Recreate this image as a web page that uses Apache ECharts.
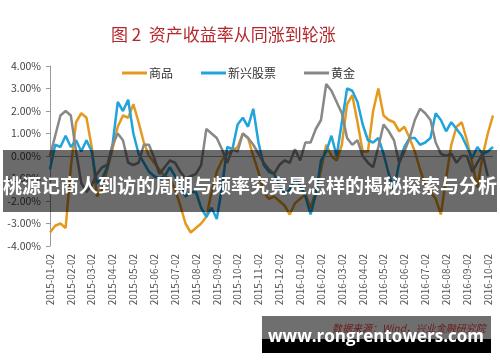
<!DOCTYPE html>
<html>
<head>
<meta charset="utf-8">
<script src="https://cdn.jsdelivr.net/npm/echarts@6/dist/echarts.min.js"></script>
<style>
html,body{margin:0;padding:0;background:#fff;}
#c{width:500px;height:362px;}
</style>
</head>
<body>
<div id="c"></div>
<script>
const monthLabels = ['2015-01-02','2015-02-02','2015-03-02','2015-04-02','2015-05-02','2015-06-02','2015-07-02','2015-08-02','2015-09-02','2015-10-02','2015-11-02','2015-12-02','2016-01-02','2016-02-02','2016-03-02','2016-04-02','2016-05-02','2016-06-02','2016-07-02','2016-08-02','2016-09-02','2016-10-02'];
const seriesNames = ['商品','新兴股票','黄金'];
const commodity = [-3.4,-3.1,-3.0,-3.2,-0.5,1.5,1.9,1.7,0.4,-1.8,-1.5,-0.6,0.3,1.3,1.8,1.7,2.3,1.5,0.6,0.0,-0.3,-0.6,-0.9,-1.0,-1.5,-2.2,-3.0,-3.4,-3.2,-3.0,-2.7,-1.6,-0.7,-0.2,0.1,0.25,0.4,1.0,0.8,0.0,-0.7,-1.6,-1.9,-1.8,-2.0,-2.2,-2.6,-2.1,-1.9,-1.7,-2.3,-1.6,-0.6,0.5,0.0,-0.2,0.5,2.3,2.7,1.5,0.2,0.2,2.0,3.0,1.8,1.6,1.5,1.1,1.3,0.8,0.2,-0.6,-1.3,-1.6,-1.9,-2.6,-1.0,0.5,1.3,1.5,0.7,-0.3,-1.4,0.0,1.0,1.8];
const emergingStocks = [-0.6,0.5,0.4,0.9,0.4,0.7,0.2,0.7,0.2,-1.2,-1.0,-0.5,0.5,2.4,2.0,2.5,1.0,0.1,-0.3,-0.7,-0.9,-1.0,-0.9,-0.5,-0.9,-1.2,-1.8,-1.6,-1.6,-2.3,-2.7,-2.3,-2.8,-1.4,0.4,0.3,1.4,1.7,1.3,2.1,0.6,-0.4,-0.7,-0.8,-1.3,-1.7,-1.5,-1.0,-1.3,-1.8,-2.6,-1.7,-0.2,0.2,0.9,0.0,1.5,3.0,2.9,2.4,1.4,0.7,0.6,0.8,0.1,-0.8,-1.5,-0.3,0.4,0.8,0.8,0.5,0.6,0.8,1.9,1.6,1.1,1.5,1.2,0.9,0.4,-0.1,0.4,0.1,0.2,0.4];
const gold = [0.0,0.9,1.8,2.0,1.8,0.2,-1.2,-1.6,-1.3,-0.8,-0.5,-0.4,0.5,1.0,0.7,-0.3,-0.4,-0.3,0.5,0.5,-0.1,-0.8,-0.5,-0.2,-0.3,-0.7,-1.0,-0.9,-0.8,-0.4,1.2,1.0,0.8,0.3,-0.3,0.3,0.2,1.0,0.8,0.5,0.1,-0.3,-0.6,-0.8,-0.4,-0.2,-0.3,0.3,-0.2,0.6,0.6,1.2,1.6,3.2,2.9,2.4,1.9,0.8,0.5,0.7,0.0,-0.3,-0.5,0.4,1.4,1.1,0.7,-0.3,0.2,0.8,1.6,2.1,1.9,1.6,0.6,0.1,0.0,0.1,-0.3,0.0,0.0,-0.7,-0.3,0.1,-0.9,null];
const yTicks = [-4,-3,-2,-1,0,1,2,3,4];

const perMonth = 4;
const categories = commodity.map((_, i) => {
  const m = Math.floor(i / perMonth);
  return i % perMonth === 0 ? monthLabels[m] : monthLabels[Math.min(m, monthLabels.length - 1)] + '#' + (i % perMonth);
});

const chart = echarts.init(document.getElementById('c'), null, {renderer: 'canvas'});
const font = '"Noto Sans CJK SC", "Noto Sans", sans-serif';
const colors = ['#E59A1F', '#21A3DB', '#888888'];

chart.setOption({
  animation: false,
  textStyle: {fontFamily: font},
  title: {
    text: '图 2  资产收益率从同涨到轮涨',
    left: 106, top: 21,
    textStyle: {fontSize: 17, fontWeight: 'normal', color: '#B3282D', fontFamily: font}
  },
  legend: {
    data: seriesNames,
    left: 117, top: 62,
    icon: 'rect', itemWidth: 25, itemHeight: 3, itemGap: 28,
    textStyle: {fontSize: 12, color: '#333', fontFamily: font, padding: [0, 0, 0, -3]}
  },
  grid: {left: 50, right: 7, top: 66, bottom: 116, containLabel: false},
  xAxis: {
    type: 'category',
    data: categories,
    boundaryGap: false,
    axisLine: {show: false, onZero: false},
    axisTick: {show: false},
    axisLabel: {
      interval: perMonth - 1,
      rotate: 90,
      fontSize: 10,
      color: '#555',
      margin: 8,
      fontFamily: font,
      formatter: v => (monthLabels.indexOf(v) >= 0 ? v : '')
    },
    splitLine: {show: false}
  },
  yAxis: {
    type: 'value',
    min: yTicks[0], max: yTicks[yTicks.length - 1], interval: 1,
    axisLine: {show: true, lineStyle: {color: '#9a9a9a', width: 1}},
    axisTick: {show: true, length: 4, lineStyle: {color: '#9a9a9a'}},
    axisLabel: {fontSize: 10.5, color: '#444', margin: 9, fontFamily: font, formatter: v => v.toFixed(2) + '%'},
    splitLine: {show: false}
  },
  series: [
    {
      name: seriesNames[0], type: 'line', data: commodity, showSymbol: false, symbol: 'none',
      lineStyle: {width: 2.5, color: colors[0]}, itemStyle: {color: colors[0]},
      markLine: {
        silent: true, symbol: 'none', label: {show: false},
        lineStyle: {color: '#9a9a9a', width: 1, type: 'solid'},
        data: [{yAxis: 0}]
      },
      z: 2
    },
    {
      name: seriesNames[1], type: 'line', data: emergingStocks, showSymbol: false, symbol: 'none',
      lineStyle: {width: 2.5, color: colors[1]}, itemStyle: {color: colors[1]}, z: 3
    },
    {
      name: seriesNames[2], type: 'line', data: gold, showSymbol: false, symbol: 'none',
      lineStyle: {width: 2.5, color: colors[2]}, itemStyle: {color: colors[2]}, z: 4
    }
  ],
  graphic: [
    {
      type: 'rect', z: 100,
      shape: {x: 3, y: 150, width: 494, height: 62},
      style: {fill: 'rgba(0,0,0,0.58)'}
    },
    {
      type: 'text', z: 101,
      x: 250, y: 186,
      style: {
        text: '桃源记商人到访的周期与频率究竟是怎样的揭秘探索与分析',
        fill: '#fff', fontSize: 19, fontWeight: 'bold', fontFamily: font,
        align: 'center', verticalAlign: 'middle'
      }
    },
    {
      type: 'rect', z: 100,
      shape: {x: 262, y: 316, width: 229, height: 23},
      style: {fill: '#6f6f6f'}
    },
    {
      type: 'rect', z: 100,
      shape: {x: 262, y: 339, width: 229, height: 14},
      style: {fill: '#000'}
    },
    {
      type: 'text', z: 101,
      x: 332, y: 328,
      style: {
        text: '数据来源：Wind，兴业金融研究院',
        fill: '#6a1a1a', fontSize: 10, fontStyle: 'italic', fontFamily: font,
        align: 'left', verticalAlign: 'middle'
      }
    },
    {
      type: 'text', z: 102,
      x: 376, y: 337,
      style: {
        text: 'www.rongrentowers.com',
        fill: '#fff', fontSize: 17, fontWeight: 'bold', fontFamily: '"Open Sans", "DejaVu Sans", sans-serif',
        align: 'center', verticalAlign: 'middle'
      }
    }
  ]
});
</script>
</body>
</html>
